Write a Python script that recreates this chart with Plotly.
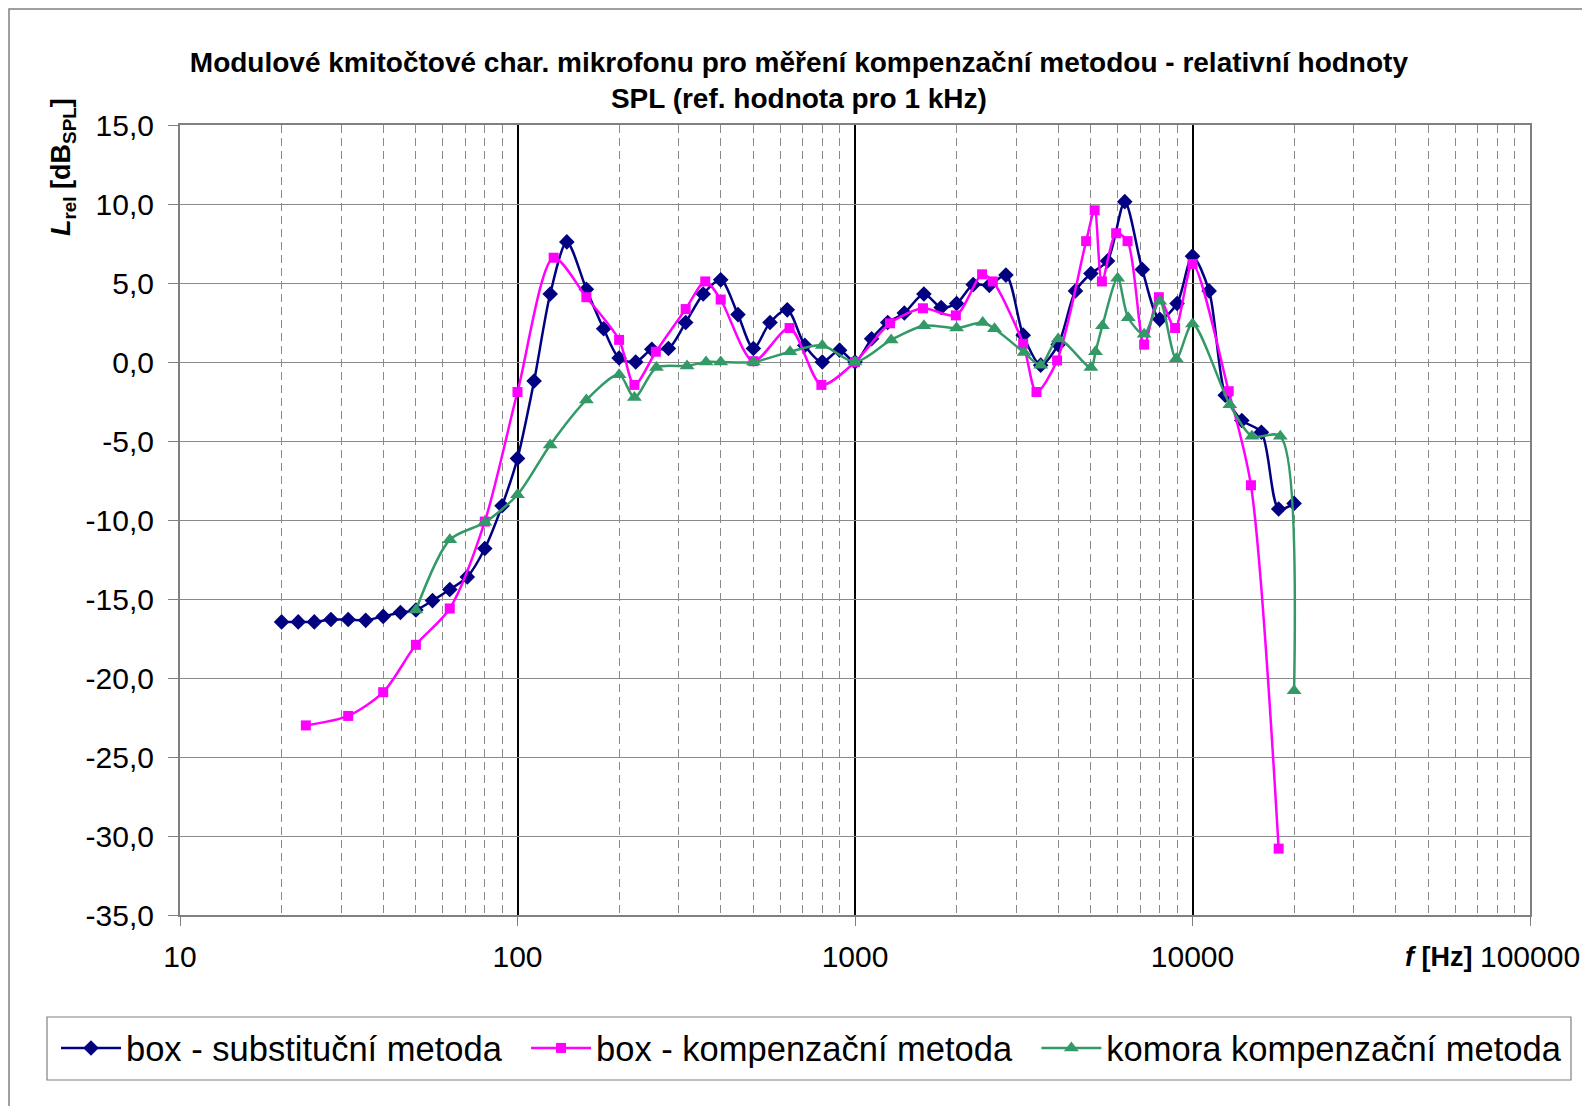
import plotly.graph_objects as go

# ---- data ----
f_sub = [20, 22.4, 25, 28, 31.5, 35.5, 40, 45, 50, 56, 63, 71, 80, 90, 100, 112, 125, 140, 160, 180,
         200, 224, 250, 280, 315, 355, 400, 450, 500, 560, 630, 710, 800, 900, 1000, 1120, 1250, 1400,
         1600, 1800, 2000, 2240, 2500, 2800, 3150, 3550, 4000, 4500, 5000, 5600, 6300, 7100, 8000,
         9000, 10000, 11200, 12500, 14000, 16000, 18000, 20000]
L_sub = [-16.45, -16.45, -16.45, -16.3, -16.3, -16.35, -16.1, -15.85, -15.7, -15.1, -14.4, -13.6, -11.8,
         -9.1, -6.1, -1.2, 4.3, 7.6, 4.6, 2.1, 0.25, 0.0, 0.8, 0.85, 2.5, 4.3, 5.2, 3.0, 0.85, 2.5, 3.3,
         1.05, 0.0, 0.75, 0.0, 1.47, 2.5, 3.1, 4.3, 3.45, 3.7, 4.9, 4.85, 5.5, 1.7, -0.2, 1.1, 4.5, 5.6,
         6.4, 10.15, 5.85, 2.7, 3.7, 6.7, 4.5, -2.1, -3.7, -4.45, -9.3, -8.95]

f_komp = [23.6, 31.5, 40, 50, 63, 80, 100, 128, 160, 200, 222, 257, 315, 360, 400, 500, 640, 795, 1000,
          1270, 1590, 1990, 2380, 2560, 3150, 3450, 3970, 4840, 5130, 5390, 5940, 6420, 7190, 7950,
          8880, 10000, 12800, 14900, 18000]
L_komp = [-23.0, -22.4, -20.9, -17.9, -15.6, -10.1, -1.9, 6.6, 4.1, 1.4, -1.45, 0.65, 3.35, 5.1, 3.95,
          0.05, 2.15, -1.45, 0.0, 2.45, 3.4, 2.95, 5.55, 5.1, 1.15, -1.9, 0.1, 7.65, 9.6, 5.1, 8.15,
          7.65, 1.1, 4.1, 2.15, 6.2, -1.85, -7.8, -30.8]

f_kom = [50, 63, 80, 100, 125, 160, 200, 222, 258, 318, 362, 400, 500, 642, 800, 1000, 1280, 1600,
         2000, 2390, 2590, 3170, 3550, 4000, 5000, 5160, 5410, 6000, 6450, 7190, 8000, 8950, 10000,
         12900, 15000, 18200, 20000]
L_kom = [-15.7, -11.25, -10.15, -8.4, -5.25, -2.4, -0.8, -2.25, -0.35, -0.25, 0.0, 0.0, 0.0, 0.65, 1.05,
         0.0, 1.4, 2.3, 2.15, 2.5, 2.1, 0.6, -0.2, 1.45, -0.35, 0.65, 2.3, 5.3, 2.8, 1.75, 3.85, 0.2,
         2.4, -2.7, -4.7, -4.7, -20.8]

names = ["box - substituční metoda", "box - kompenzační metoda", "komora kompenzační metoda"]

x_ticks = [10, 100, 1000, 10000, 100000]
x_ticktext = ["10", "100", "1000", "10000", "100000"]
x_minor = [m * 10 ** k for k in range(1, 5) for m in range(2, 10)]
y_ticks = [15, 10, 5, 0, -5, -10, -15, -20, -25, -30, -35]
y_ticktext = ["15,0", "10,0", "5,0", "0,0", "-5,0", "-10,0", "-15,0", "-20,0", "-25,0", "-30,0", "-35,0"]

FONT = "Liberation Sans, Arial, sans-serif"
PAD = "&nbsp;&nbsp;"

fig = go.Figure()
fig.add_trace(go.Scatter(x=f_sub, y=L_sub, name=names[0] + PAD, mode="lines+markers",
                         line=dict(color="#000080", width=2.5, shape="spline", smoothing=0.8),
                         marker=dict(symbol="diamond", size=12, color="#000080")))
fig.add_trace(go.Scatter(x=f_komp, y=L_komp, name=names[1] + PAD, mode="lines+markers",
                         line=dict(color="#FF00FF", width=2.5, shape="spline", smoothing=0.8),
                         marker=dict(symbol="square", size=10, color="#FF00FF")))
fig.add_trace(go.Scatter(x=f_kom, y=L_kom, name=names[2], mode="lines+markers",
                         line=dict(color="#339966", width=2.5, shape="spline", smoothing=0.8),
                         marker=dict(symbol="triangle-up", size=13, color="#339966")))

pw = 1350.0
ph = 790.0
fig.update_layout(
    width=1582, height=1106,
    margin=dict(l=180, r=52, t=125, b=191, pad=0, autoexpand=False),
    paper_bgcolor="white", plot_bgcolor="white",
    font=dict(family=FONT, size=30, color="black"),
    title=dict(text="<b>Modulové kmitočtové char. mikrofonu pro měření kompenzační metodou - relativní hodnoty"
                    "<br>SPL (ref. hodnota pro 1 kHz)</b>",
               x=0.505, xref="container", xanchor="center",
               y=1 - 72 / 1106, yref="container", yanchor="middle",
               font=dict(family=FONT, size=28, color="black")),
    showlegend=True,
    legend=dict(orientation="h", x=(56 - 180) / pw, y=(915 - 1019) / ph,
                xanchor="left", yanchor="top",
                font=dict(family=FONT, size=34.5, color="black"),
                borderwidth=0, bgcolor="rgba(0,0,0,0)",
                itemwidth=60),
    xaxis=dict(type="log", range=[1, 5], tickvals=x_ticks, ticktext=x_ticktext,
               automargin=False,
               showgrid=True, gridcolor="black", gridwidth=2,
               showline=True, linecolor="#808080", linewidth=2, mirror=True,
               ticks="outside", ticklen=9, tickcolor="#808080", tickwidth=1,
               ticklabelstandoff=5,
               tickfont=dict(family=FONT, size=30, color="black"),
               minor=dict(tickvals=x_minor, showgrid=True, gridcolor="#8a8a8a", gridwidth=1,
                          griddash="8px,5px", ticks=""),
               zeroline=False),
    yaxis=dict(range=[-35, 15], tickvals=y_ticks, ticktext=y_ticktext,
               automargin=False,
               showgrid=True, gridcolor="#8a8a8a", gridwidth=1,
               showline=True, linecolor="#808080", linewidth=2, mirror=True,
               ticks="outside", ticklen=10, tickcolor="#808080", tickwidth=1,
               ticklabelstandoff=8,
               tickfont=dict(family=FONT, size=30, color="black"),
               zeroline=False),
    shapes=[
        dict(type="rect", xref="paper", yref="paper",
             x0=(9 - 180) / pw, x1=1.1, y0=-0.4, y1=(915 - 9) / ph,
             line=dict(color="#808080", width=1.5), fillcolor="rgba(0,0,0,0)", layer="below"),
        dict(type="rect", xref="paper", yref="paper",
             x0=(47 - 180) / pw, x1=(1571 - 180) / pw, y0=(915 - 1080) / ph, y1=(915 - 1017) / ph,
             line=dict(color="#808080", width=1.2), fillcolor="rgba(0,0,0,0)", layer="below"),
    ],
    annotations=[
        dict(text="<b><i>L</i><sub>rel</sub> [dB<sub>SPL</sub>]</b>", textangle=-90,
             xref="paper", yref="paper", x=(63 - 180) / pw, y=(915 - 167) / ph,
             xanchor="center", yanchor="middle", showarrow=False,
             font=dict(family=FONT, size=27, color="black")),
        dict(text="<b><i>f</i> [Hz]</b>",
             xref="paper", yref="paper", x=(1474 - 180) / pw, y=(915 - 957) / ph,
             xanchor="right", yanchor="middle", showarrow=False,
             font=dict(family=FONT, size=27, color="black")),
    ],
)

fig.write_html("out.html", config={"displayModeBar": False},
               post_script="document.body.style.margin='0';document.body.style.overflow='hidden';")
